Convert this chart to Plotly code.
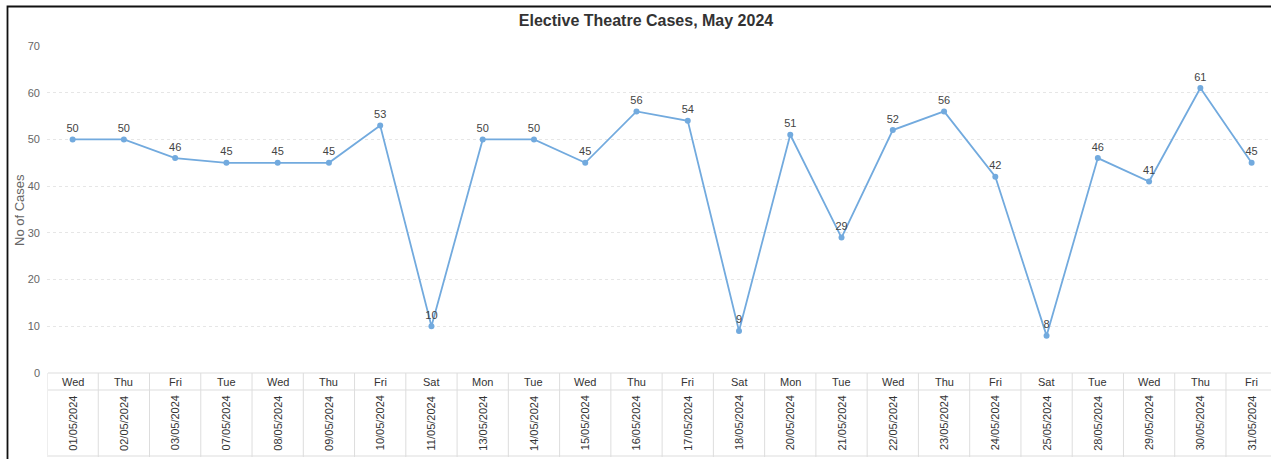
import plotly.graph_objects as go

days = ["Wed", "Thu", "Fri", "Tue", "Wed", "Thu", "Fri", "Sat", "Mon", "Tue", "Wed", "Thu",
        "Fri", "Sat", "Mon", "Tue", "Wed", "Thu", "Fri", "Sat", "Tue", "Wed", "Thu", "Fri"]
dates = ["01/05/2024", "02/05/2024", "03/05/2024", "07/05/2024", "08/05/2024", "09/05/2024",
         "10/05/2024", "11/05/2024", "13/05/2024", "14/05/2024", "15/05/2024", "16/05/2024",
         "17/05/2024", "18/05/2024", "20/05/2024", "21/05/2024", "22/05/2024", "23/05/2024",
         "24/05/2024", "25/05/2024", "28/05/2024", "29/05/2024", "30/05/2024", "31/05/2024"]
cases = [50, 50, 46, 45, 45, 45, 53, 10, 50, 50, 45, 56, 54, 9, 51, 29, 52, 56, 42, 8, 46, 41, 61, 45]
y_ticks = [0, 10, 20, 30, 40, 50, 60, 70]

W, H = 1271, 459
ML, MR, MT, MB = 47, 0, 46, 86
PW, PH = W - ML - MR, H - MT - MB

def py(px):
    return (H - MB - px) / PH

def pxp(px):
    return (px - ML) / PW

LINE_COL = "#72aade"
GRID_COL = "#dddddd"
TXT = "#555555"

fig = go.Figure()
fig.add_trace(go.Scatter(
    x=list(range(len(dates))), y=cases,
    mode="lines+markers+text",
    line=dict(color=LINE_COL, width=1.8),
    marker=dict(color=LINE_COL, size=6),
    text=[str(v) for v in cases],
    textposition="top center",
    textfont=dict(family="Liberation Sans, Arial", size=11, color="#444444"),
    cliponaxis=False,
    showlegend=False,
))

annotations = []
shapes = []
n = len(dates)
for i in range(n):
    annotations.append(dict(x=i, y=py(381.5), xref="x", yref="paper", text=days[i],
                            showarrow=False, yanchor="middle", xanchor="center",
                            font=dict(family="Liberation Sans, Arial", size=11, color="#333333")))
    annotations.append(dict(x=i, y=py(423), xref="x", yref="paper", text=dates[i],
                            showarrow=False, textangle=-90, yanchor="middle", xanchor="center",
                            font=dict(family="Liberation Sans, Arial", size=11, color="#333333")))
    shapes.append(dict(type="line", xref="x", yref="paper", x0=i - 0.5, x1=i - 0.5,
                       y0=py(373), y1=py(457), line=dict(color=GRID_COL, width=1)))

for ypix in (373, 390, 456):
    shapes.append(dict(type="line", xref="paper", yref="paper", x0=pxp(48), x1=1.0,
                       y0=py(ypix), y1=py(ypix), line=dict(color=GRID_COL, width=1)))

# outer frame
shapes.append(dict(type="rect", xref="paper", yref="paper", x0=pxp(7.5), x1=pxp(1290),
                   y0=py(480), y1=py(6.5), line=dict(color="#111111", width=1.8),
                   fillcolor="rgba(0,0,0,0)"))

annotations.append(dict(x=pxp(20), y=py(210), xref="paper", yref="paper", text="No of Cases",
                        showarrow=False, textangle=-90, xanchor="center", yanchor="middle",
                        font=dict(family="Liberation Sans, Arial", size=13, color="#666666")))

fig.update_layout(
    width=W, height=H,
    margin=dict(l=ML, r=MR, t=MT, b=MB, pad=0),
    paper_bgcolor="white", plot_bgcolor="white",
    title=dict(text="<b>Elective Theatre Cases, May 2024</b>", x=pxp(646), xref="paper",
               y=1 - 20 / H, yref="container", xanchor="center", yanchor="middle",
               font=dict(family="Liberation Sans, Arial", size=16, color="#333333")),
    xaxis=dict(range=[-0.5, (W - ML) / 51.26 - 0.5], showticklabels=False, showgrid=False,
               zeroline=False, showline=False, ticks=""),
    yaxis=dict(range=[0, 70], tickvals=y_ticks, showgrid=True, gridcolor="#e6e6e6",
               griddash="dot", gridwidth=1, zeroline=False, showline=False,
               tickfont=dict(family="Liberation Sans, Arial", size=11, color="#666666"),
               ticks="", ticklabelstandoff=6),
    annotations=annotations, shapes=shapes,
)

fig.write_html("out.html")
